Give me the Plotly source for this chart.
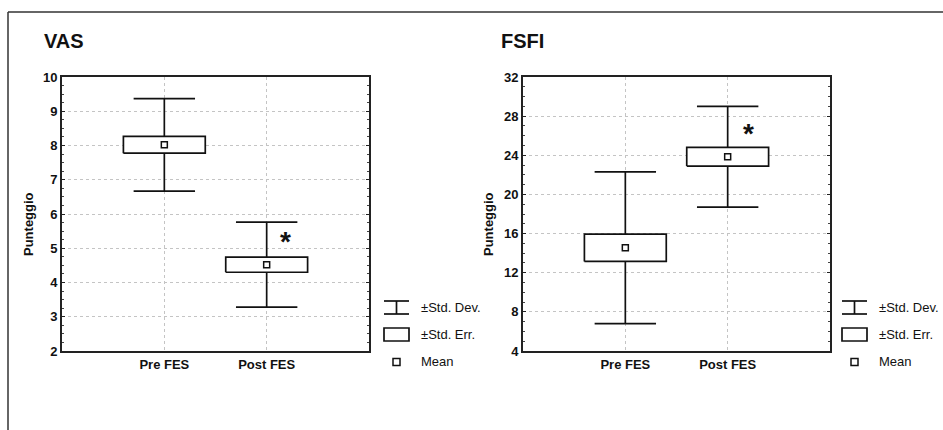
import plotly.graph_objects as go

# ---- data ----
groups = ["Pre FES", "Post FES"]
vas_mean = [8.02, 4.52]
vas_se = [0.245, 0.22]
vas_sd = [1.35, 1.24]
fsfi_mean = [14.55, 23.85]
fsfi_se = [1.4, 0.95]
fsfi_sd = [7.75, 5.15]
vas_ticks = [2, 3, 4, 5, 6, 7, 8, 9, 10]
fsfi_ticks = [4, 8, 12, 16, 20, 24, 28, 32]
legend_labels = ["±Std. Dev.", "±Std. Err.", "Mean"]
star_pos_vas = (1.18, 5.2)
star_pos_fsfi = (1.2, 26.2)

W, H = 943, 430
FONT = "Liberation Sans, Arial, sans-serif"


def px(x):
    return x / W


def py(y):
    return 1 - y / H


fig = go.Figure()

BOX_HW = 0.4
CAP_HW = 0.3


def add_panel(means, ses, sds, xa, ya):
    for i, (m, se, sd) in enumerate(zip(means, ses, sds)):
        lo, hi = m - sd, m + sd
        fig.add_trace(go.Scatter(
            x=[i, i, None, i - CAP_HW, i + CAP_HW, None, i - CAP_HW, i + CAP_HW],
            y=[lo, hi, None, lo, lo, None, hi, hi],
            mode="lines", line=dict(color="#111", width=1.7),
            xaxis=xa, yaxis=ya, showlegend=False, hoverinfo="skip"))
        slo, shi = m - se, m + se
        fig.add_trace(go.Scatter(
            x=[i - BOX_HW, i + BOX_HW, i + BOX_HW, i - BOX_HW, i - BOX_HW],
            y=[slo, slo, shi, shi, slo],
            mode="lines", fill="toself", fillcolor="white",
            line=dict(color="#111", width=1.7),
            xaxis=xa, yaxis=ya, showlegend=False, hoverinfo="skip"))
    fig.add_trace(go.Scatter(
        x=list(range(len(means))), y=means, mode="markers",
        marker=dict(symbol="square", size=6, color="white",
                    line=dict(color="#111", width=1.5)),
        xaxis=xa, yaxis=ya, showlegend=False, hoverinfo="skip"))


add_panel(vas_mean, vas_se, vas_sd, "x", "y")
add_panel(fsfi_mean, fsfi_se, fsfi_sd, "x2", "y2")

ydom = [py(351), py(77)]
common_x = dict(
    range=[-1, 2], tickvals=[0, 1], ticktext=groups,
    showgrid=True, gridcolor="#c4c4c4", griddash="dot", gridwidth=1,
    zeroline=False, showline=True, linecolor="#222", linewidth=1.8, mirror=True,
    ticks="", tickfont=dict(family=FONT, size=13, color="#111", weight="bold"),
    fixedrange=True)
common_y = dict(
    showgrid=True, gridcolor="#c4c4c4", griddash="dot", gridwidth=1,
    zeroline=False, showline=True, linecolor="#222", linewidth=1.8, mirror="allticks",
    ticks="inside", ticklen=3, tickcolor="#222",
    tickfont=dict(family=FONT, size=13, color="#111", weight="bold"),
    domain=ydom, fixedrange=True)

fig.update_layout(
    width=W, height=H, margin=dict(l=0, r=0, t=0, b=0, autoexpand=False),
    paper_bgcolor="white", plot_bgcolor="white",
    xaxis=dict(domain=[px(62), px(369)], anchor="y", **common_x),
    yaxis=dict(range=[2, 10], tickvals=vas_ticks, anchor="x",
               minor=dict(ticks="inside", ticklen=2, dtick=0.25, tickcolor="#444", showgrid=False),
               **common_y),
    xaxis2=dict(domain=[px(523), px(830)], anchor="y2", **common_x),
    yaxis2=dict(range=[4, 32], tickvals=fsfi_ticks, anchor="x2",
                minor=dict(ticks="inside", ticklen=2, dtick=1, tickcolor="#444", showgrid=False),
                **common_y),
    showlegend=False,
)

ann = []
ann.append(dict(text="VAS", x=px(42), y=py(41), xref="paper", yref="paper",
                xanchor="left", yanchor="middle", showarrow=False,
                font=dict(family=FONT, size=20, color="#111", weight="bold")))
ann.append(dict(text="FSFI", x=px(499), y=py(41), xref="paper", yref="paper",
                xanchor="left", yanchor="middle", showarrow=False,
                font=dict(family=FONT, size=20, color="#111", weight="bold")))
for xc in (28, 488):
    ann.append(dict(text="Punteggio", x=px(xc), y=py(224), xref="paper", yref="paper",
                    xanchor="center", yanchor="middle", textangle=-90, showarrow=False,
                    font=dict(family=FONT, size=13, color="#111", weight="bold")))
ann.append(dict(text="*", x=star_pos_vas[0], y=star_pos_vas[1], xref="x", yref="y",
                showarrow=False, xanchor="center", yanchor="middle",
                font=dict(family=FONT, size=28, color="#111", weight="bold")))
ann.append(dict(text="*", x=star_pos_fsfi[0], y=star_pos_fsfi[1], xref="x2", yref="y2",
                showarrow=False, xanchor="center", yanchor="middle",
                font=dict(family=FONT, size=28, color="#111", weight="bold")))

shapes = []
# outer frame (top and left visible)
shapes.append(dict(type="line", xref="paper", yref="paper", x0=px(8), x1=1.0,
                   y0=py(12), y1=py(12), line=dict(color="#333", width=1.5)))
shapes.append(dict(type="line", xref="paper", yref="paper", x0=px(8), x1=px(8),
                   y0=py(12), y1=0, line=dict(color="#333", width=1.5)))

# custom legends
rows = [307, 334, 361]
for lx, tx in ((384, 419), (842, 877)):
    iw = 25
    y0, y1 = 301, 314
    shapes.append(dict(type="line", xref="paper", yref="paper", x0=px(lx), x1=px(lx + iw),
                       y0=py(y0), y1=py(y0), line=dict(color="#111", width=1.7)))
    shapes.append(dict(type="line", xref="paper", yref="paper", x0=px(lx), x1=px(lx + iw),
                       y0=py(y1), y1=py(y1), line=dict(color="#111", width=1.7)))
    shapes.append(dict(type="line", xref="paper", yref="paper", x0=px(lx + iw / 2), x1=px(lx + iw / 2),
                       y0=py(y0), y1=py(y1), line=dict(color="#111", width=1.7)))
    shapes.append(dict(type="rect", xref="paper", yref="paper", x0=px(lx), x1=px(lx + iw),
                       y0=py(341), y1=py(328), line=dict(color="#111", width=1.7),
                       fillcolor="white"))
    cx = lx + iw / 2
    shapes.append(dict(type="rect", xref="paper", yref="paper", x0=px(cx - 3.5), x1=px(cx + 3.5),
                       y0=py(365.5), y1=py(358.5), line=dict(color="#111", width=1.5),
                       fillcolor="white"))
    for lab, ry in zip(legend_labels, rows):
        ann.append(dict(text=lab, x=px(tx), y=py(ry), xref="paper", yref="paper",
                        xanchor="left", yanchor="middle", showarrow=False,
                        font=dict(family=FONT, size=13, color="#111")))

fig.update_layout(annotations=ann, shapes=shapes)
fig.write_html(
    "out.html",
    config={"responsive": False, "displayModeBar": False},
    default_width="943px", default_height="430px",
    post_script="document.documentElement.style.margin='0';document.documentElement.style.overflow='hidden';"
                "document.body.style.margin='0';document.body.style.padding='0';"
                "document.body.style.overflow='hidden';",
)
